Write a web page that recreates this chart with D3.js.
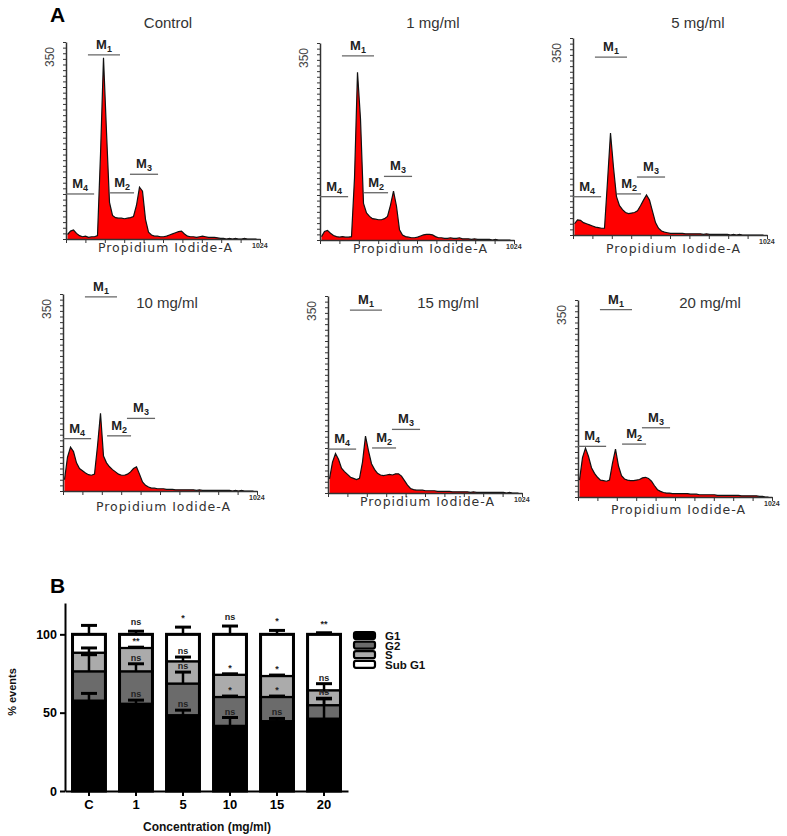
<!DOCTYPE html>
<html>
<head>
  <meta charset="utf-8">
  <title>Cell cycle</title>
  <script src="https://cdn.jsdelivr.net/npm/d3@7"></script>
  <style type="text/css">
    body { margin: 0; background: #fff; }
    svg { display: block; }
    .title { font-family: "Liberation Sans", Arial, sans-serif; font-size: 15px; fill: #333; text-anchor: middle; }
    .xlab { font-family: "DejaVu Sans", Verdana, sans-serif; font-size: 12.5px; fill: #333; text-anchor: middle; }
    .small { font-family: "Liberation Sans", Arial, sans-serif; font-size: 7px; font-weight: bold; fill: #333; }
    .ymax { font-family: "Liberation Sans", Arial, sans-serif; font-size: 12px; fill: #444; text-anchor: middle; }
    .gate { font-family: "Liberation Sans", Arial, sans-serif; font-size: 13px; font-weight: bold; fill: #222; text-anchor: middle; }
    .panel { font-family: "Liberation Sans", Arial, sans-serif; font-size: 21px; font-weight: bold; fill: #000; }
    .hax path, .hax line { stroke: #333; }
    .bax path, .bax line { stroke: #000; stroke-width: 2px; }
    .bax text { font-family: "Liberation Sans", Arial, sans-serif; font-weight: bold; fill: #000; }
    .sig { font-family: "Liberation Sans", Arial, sans-serif; font-size: 9px; font-weight: bold; fill: #222; text-anchor: middle; }
    .btitle { font-family: "Liberation Sans", Arial, sans-serif; font-weight: bold; fill: #111; text-anchor: middle; }
    .leg { font-family: "Liberation Sans", Arial, sans-serif; font-size: 11.5px; font-weight: bold; fill: #111; }
  </style>
</head>
<body>
<div id="chart"></div>
<script type="text/javascript">

  // ---- panel A data: counts per 16-channel bin (0..1024) ----
  var histTitles = ['Control', '1 mg/ml', '5 mg/ml', '10 mg/ml', '15 mg/ml', '20 mg/ml'];

  var histControl = [8,14,16,10,6,4,5,3,4,4, 6,150,322,190,65,42,38,37,37,36, 37,38,40,60,92,85,35,12,7,5,
    5,4,4,5,7,9,11,13,14,9, 5,4,4,3,4,5,4,3,3,3, 2,1,1,0,1,0,1,0,0,1, 0,0,0,0];
  var hist1 = [6,15,17,12,8,6,5,6,5,5, 6,110,298,215,65,48,42,38,37,36, 36,38,42,62,87,60,18,9,6,5,
    4,4,5,7,9,10,10,9,6,4, 4,3,3,4,3,3,4,2,2,2, 1,2,1,1,1,1,1,0,1,0, 0,0,0,0];
  var hist5 = [20,27,26,22,20,18,16,14,13,12, 12,95,181,120,68,52,45,40,38,39, 40,43,52,62,71,62,42,22,12,7,
    5,4,3,3,3,3,3,2,2,2, 2,2,2,1,2,1,1,1,1,1, 1,1,0,1,0,1,0,0,0,0, 0,0,0,0];
  var hist10 = [20,60,78,70,50,40,36,32,29,28, 30,80,138,62,50,43,38,34,30,28, 28,30,34,40,43,30,16,10,7,5,
    5,4,4,4,3,3,3,2,2,2, 2,2,2,2,1,2,1,1,1,1, 1,1,1,1,1,1,0,1,0,1, 0,0,0,0];
  var hist15 = [25,55,70,60,44,38,33,28,26,24, 26,55,101,75,52,42,35,32,31,32, 33,32,34,34,30,22,14,8,6,5,
    5,5,4,4,4,4,3,3,3,3, 3,2,2,2,2,2,2,1,2,1, 1,1,1,1,1,1,1,1,1,0, 1,0,0,0];
  var hist20 = [30,70,87,72,52,42,35,30,29,28, 30,60,85,55,38,32,30,29,29,30, 31,34,35,33,28,20,13,10,8,7,
    7,6,6,6,6,6,6,5,5,5, 4,4,4,4,4,4,3,3,3,3, 3,3,3,3,2,2,2,2,2,2, 1,1,0,0];
  var histSeries = [histControl, hist1, hist5, hist10, hist15, hist20];

  // marker gates (channels) and their drawn level (counts) per panel
  var gateNames = ['4', '1', '2', '3'];
  var gateStart = [0, 117, 235, 341];
  var gateEnd = [150, 288, 363, 491];
  var gateLevels = [
    [80, 327, 82, 115],
    [77, 327, 84, 113],
    [68, 316, 73, 103],
    [93, 345, 98, 129],
    [78, 325, 80, 113],
    [90, 333, 94, 123]
  ];

  // ---- panel B data ----
  var concLabels = ['C', '1', '5', '10', '15', '20'];
  var g1 = [57.7, 55.7, 48.4, 41.6, 44.6, 46.2];
  var g2 = [18.7, 20.7, 20.2, 18.4, 15.4, 8.6];
  var sPhase = [11.9, 14.9, 14.2, 14.2, 13.4, 9.5];
  var subG1 = [11.7, 8.7, 17.2, 25.8, 26.6, 35.7];
  var errG1 = [4.6, 2.3, 3.2, 5.3, 1.7, 13];
  var errG2 = [10.6, 4.8, 7.3, 0.6, 0.6, 4];
  var errS = [3, 0.5, 2.7, 0.6, 0.6, 4.2];
  var errSub = [5.7, 2, 4.6, 5.3, 2.5, 1];
  var sigG1 = ['', 'ns', 'ns', 'ns', 'ns', 'ns'];
  var sigG2 = ['', 'ns', 'ns', '*', '*', '**'];
  var sigS = ['', '**', 'ns', '*', '*', 'ns'];
  var sigSub = ['', 'ns', '*', 'ns', '*', '**'];
  var phaseKeys = ['G1', 'G2', 'S', 'Sub G1'];
  var phaseColors = ['#000000', '#6b6b6b', '#ababab', '#ffffff'];

  var svg = d3.select('#chart').append('svg')
    .attr('width', 787).attr('height', 836);
  svg.append('rect').attr('width', 787).attr('height', 836).attr('fill', '#fff');

  svg.append('text').attr('class', 'panel').attr('x', 50).attr('y', 22).text('A');
  svg.append('text').attr('class', 'panel').attr('x', 50).attr('y', 593).text('B');

  // panel placement on the page
  var layout = [
    { x0: 66,  base: 239, tx: 168, ty: 28,  lx: 165, ly: 252 },
    { x0: 320, base: 240, tx: 433, ty: 28,  lx: 420, ly: 253 },
    { x0: 573, base: 235, tx: 698, ty: 28,  lx: 673, ly: 253 },
    { x0: 63,  base: 491, tx: 167, ty: 308, lx: 163, ly: 511 },
    { x0: 328, base: 493, tx: 448, ty: 308, lx: 427, ly: 506 },
    { x0: 578, base: 497, tx: 710, ty: 308, lx: 678, ly: 514 }
  ];
  var hw = 192, hh = 197, binWidth = 16;

  histSeries.forEach(function (counts, p) {
    var L = layout[p];
    var x = d3.scaleLinear().domain([0, 1024]).range([L.x0, L.x0 + hw]);
    var y = d3.scaleLinear().domain([0, 350]).range([L.base, L.base - hh]);
    var g = svg.append('g');

    var pts = counts.map(function (c, i) { return { ch: i * binWidth + binWidth / 2, c: c }; });

    g.append('path').datum(pts)
      .attr('fill', '#ff0000')
      .attr('d', d3.area().x(function (d) { return x(d.ch); }).y0(L.base).y1(function (d) { return y(d.c); }));
    g.append('path').datum(pts)
      .attr('fill', 'none').attr('stroke', '#111').attr('stroke-width', 1.2)
      .attr('d', d3.line().x(function (d) { return x(d.ch); }).y(function (d) { return y(d.c); }));

    g.append('g').attr('class', 'hax')
      .attr('transform', 'translate(' + L.x0 + ',0)')
      .call(d3.axisLeft(y).tickValues(d3.range(0, 351, 10)).tickSize(3).tickSizeOuter(0).tickFormat(''))
      .select('.domain').attr('stroke-width', 1.5);
    g.append('g').attr('class', 'hax')
      .attr('transform', 'translate(0,' + L.base + ')')
      .call(d3.axisBottom(x.copy().range([L.x0, L.x0 + hw + 2])).tickValues(d3.range(0, 1025, 102.4)).tickSize(4).tickSizeOuter(0).tickFormat(''))
      .select('.domain').attr('stroke-width', 1.5);

    g.append('text').attr('class', 'ymax')
      .attr('transform', 'translate(' + (L.x0 - 12) + ',' + (L.base - hh + 15) + ') rotate(-90)')
      .text('350');
    g.append('text').attr('class', 'small').attr('x', L.x0 + hw - 6).attr('y', L.base + 9).text('1024');
    g.append('text').attr('class', 'title').attr('x', L.tx).attr('y', L.ty).text(histTitles[p]);
    g.append('text').attr('class', 'xlab').attr('x', L.lx).attr('y', L.ly)
      .attr('textLength', 134).attr('lengthAdjust', 'spacing').text('Propidium Iodide-A');

    gateNames.forEach(function (name, k) {
      var ly = y(gateLevels[p][k]);
      var xa = x(gateStart[k]), xb = x(gateEnd[k]);
      g.append('line').attr('x1', xa).attr('x2', xb).attr('y1', ly).attr('y2', ly)
        .attr('stroke', '#666').attr('stroke-width', 1.3);
      var t = g.append('text').attr('class', 'gate').attr('x', (xa + xb) / 2).attr('y', ly - 6);
      t.append('tspan').text('M');
      t.append('tspan').attr('font-size', '9px').attr('dy', 3).text(name);
    });
  });

  // ---- panel B: stacked bars ----
  var bx = d3.scaleBand().domain(concLabels).range([65, 348]).paddingInner(0.3).paddingOuter(0.16);
  var by = d3.scaleLinear().domain([0, 120]).range([791, 603]);

  var rows = concLabels.map(function (c, i) {
    return { conc: c, 'G1': g1[i], 'G2': g2[i], 'S': sPhase[i], 'Sub G1': subG1[i] };
  });
  var errs = [errG1, errG2, errS, errSub];
  var sigs = [sigG1, sigG2, sigS, sigSub];
  var stacked = d3.stack().keys(phaseKeys)(rows);

  var bars = svg.append('g');
  stacked.forEach(function (layer, k) {
    bars.append('g').selectAll('rect').data(layer).enter().append('rect')
      .attr('x', function (d) { return bx(d.data.conc); })
      .attr('width', bx.bandwidth())
      .attr('y', function (d) { return by(d[1]); })
      .attr('height', function (d) { return by(d[0]) - by(d[1]); })
      .attr('fill', phaseColors[k])
      .attr('stroke', '#000').attr('stroke-width', 2.2);
  });
  // outer outline of each bar
  bars.append('g').selectAll('rect').data(rows).enter().append('rect')
    .attr('x', function (d) { return bx(d.conc); })
    .attr('width', bx.bandwidth())
    .attr('y', function () { return by(100); })
    .attr('height', function () { return by(0) - by(100); })
    .attr('fill', 'none').attr('stroke', '#000').attr('stroke-width', 3);

  // error bars and significance marks
  stacked.forEach(function (layer, k) {
    layer.forEach(function (d, i) {
      var cx = bx(d.data.conc) + bx.bandwidth() / 2;
      var top = d[1], cap = d[1] + errs[k][i];
      bars.append('line').attr('x1', cx).attr('x2', cx).attr('y1', by(top)).attr('y2', by(cap))
        .attr('stroke', '#000').attr('stroke-width', 2.5);
      bars.append('line').attr('x1', cx - 8).attr('x2', cx + 8).attr('y1', by(cap)).attr('y2', by(cap))
        .attr('stroke', '#000').attr('stroke-width', 3);
      if (sigs[k][i]) {
        bars.append('text').attr('class', 'sig').attr('x', cx)
          .attr('y', by(cap) - (k === 3 ? 6 : 3)).text(sigs[k][i]);
      }
    });
  });

  svg.append('g').attr('class', 'bax')
    .attr('transform', 'translate(65,0)')
    .call(d3.axisLeft(by).tickValues([0, 50, 100]).tickSize(5).tickSizeOuter(0))
    .selectAll('text').attr('font-size', '12.5px');
  svg.append('g').attr('class', 'bax')
    .attr('transform', 'translate(0,791)')
    .call(d3.axisBottom(bx).tickSize(5).tickSizeOuter(0).tickPadding(4))
    .selectAll('text').attr('font-size', '13px');

  svg.append('text').attr('class', 'btitle').attr('font-size', '12px')
    .attr('x', 207).attr('y', 831).text('Concentration (mg/ml)');
  svg.append('text').attr('class', 'btitle').attr('font-size', '11px')
    .attr('transform', 'translate(16,692) rotate(-90)').text('% events');

  // legend
  var leg = svg.append('g').attr('transform', 'translate(354,632)');
  phaseKeys.forEach(function (key, k) {
    leg.append('rect').attr('x', 0).attr('y', k * 9.6).attr('width', 21).attr('height', 7).attr('rx', 2)
      .attr('fill', phaseColors[k]).attr('stroke', '#000').attr('stroke-width', 2.2);
    leg.append('text').attr('class', 'leg').attr('x', 31).attr('y', k * 9.6 + 8).text(key);
  });

</script>
</body>
</html>
